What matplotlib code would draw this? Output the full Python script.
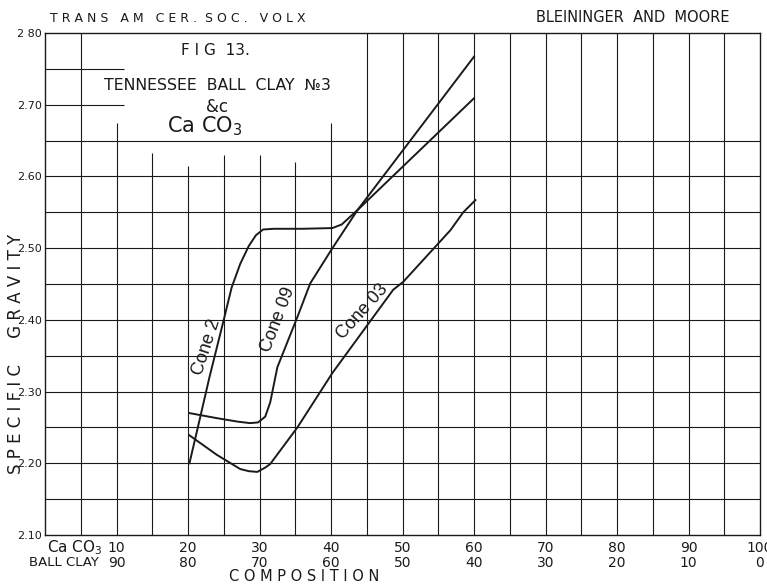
import numpy as np
import matplotlib
matplotlib.use('Agg')
import matplotlib.pyplot as plt

# composition axis (percent CaCO3) and matching ball clay percent
caco3_ticks = [10, 20, 30, 40, 50, 60, 70, 80, 90, 100]
ball_clay_ticks = [90, 80, 70, 60, 50, 40, 30, 20, 10, 0]
sg_ticks = [2.10, 2.20, 2.30, 2.40, 2.50, 2.60, 2.70, 2.80]
sg_labels = ['2.10', '2.20', '2.30', '2.40', '2.50', '2.60', '2.70', '2 80']

# curves: (CaCO3 %, specific gravity)
cone2_x = [20.2, 21.0, 21.7, 23.0, 25.0, 26.1, 27.3, 28.5, 29.5, 30.5, 32.0, 36.0, 40.2, 41.5, 42.7, 43.7, 60.0]
cone2_y = [2.200, 2.234, 2.264, 2.320, 2.400, 2.445, 2.478, 2.503, 2.518, 2.526, 2.527, 2.527, 2.528, 2.533, 2.544, 2.553, 2.709]

cone09_x = [20.2, 24.0, 27.0, 28.7, 29.8, 30.8, 31.5, 32.5, 35.3, 37.1, 40.2, 43.7, 60.0]
cone09_y = [2.270, 2.263, 2.258, 2.256, 2.257, 2.265, 2.285, 2.334, 2.404, 2.451, 2.500, 2.553, 2.767]

cone03_x = [20.2, 24.0, 27.3, 28.5, 29.7, 30.8, 31.5, 35.3, 40.2, 48.7, 50.1, 56.7, 58.5, 60.2]
cone03_y = [2.239, 2.212, 2.192, 2.189, 2.188, 2.194, 2.199, 2.250, 2.326, 2.442, 2.453, 2.525, 2.550, 2.567]

# grid lines: vertical tops are cut short under the title block
vgrid_x = [5, 10, 15, 20, 25, 30, 35, 40, 45, 50, 55, 60, 65, 70, 75, 80, 85, 90, 95]
vgrid_top = [2.80, 2.675, 2.633, 2.615, 2.630, 2.630, 2.620, 2.675, 2.80, 2.80,
             2.80, 2.80, 2.80, 2.80, 2.80, 2.80, 2.80, 2.80, 2.80]
hgrid_y = [2.15, 2.20, 2.25, 2.30, 2.35, 2.40, 2.45, 2.50, 2.55, 2.60, 2.65]
hgrid_short_y = [2.70, 2.75]

ink = '#1a1a1a'

fig = plt.figure(figsize=(7.67, 5.84), dpi=100)
ax = fig.add_axes([45 / 767, 1 - 535 / 584, 715 / 767, 502 / 584])
ax.set_xlim(0, 100)
ax.set_ylim(2.10, 2.80)

ax.vlines(vgrid_x, 2.10, vgrid_top, color=ink, lw=0.8)
ax.hlines(hgrid_y, 0, 100, color=ink, lw=0.8)
ax.hlines(hgrid_short_y, 0, 11, color=ink, lw=0.8)
for sp in ax.spines.values():
    sp.set_color(ink)
    sp.set_linewidth(1.0)

for xs, ys in [(cone2_x, cone2_y), (cone09_x, cone09_y), (cone03_x, cone03_y)]:
    ax.plot(xs, ys, color=ink, lw=1.4, solid_joinstyle='round')

lab = dict(family='Liberation Sans', fontsize=13, color=ink, ha='center', va='center')
ax.text(22.6, 2.362, 'Cone 2', rotation=72, **lab)
ax.text(32.6, 2.400, 'Cone 09', rotation=69, **lab)
ax.text(44.4, 2.412, 'Cone 03', rotation=48, **lab)

ax.set_xticks(caco3_ticks)
ax.set_xticklabels([])
ax.set_yticks(sg_ticks)
ax.set_yticklabels(sg_labels, fontsize=8, color=ink)
ax.tick_params(axis='y', length=0, pad=2)
ax.tick_params(axis='x', length=0)

# two rows of composition labels under the axis
for c, b in zip(caco3_ticks, ball_clay_ticks):
    ax.text(c, 2.082, str(c), ha='center', va='center', fontsize=10, color=ink)
    ax.text(c, 2.061, str(b), ha='center', va='center', fontsize=10, color=ink)
ax.text(4.2, 2.082, 'Ca CO$_3$', ha='center', va='center', fontsize=11, color=ink)
ax.text(2.7, 2.061, 'BALL CLAY', ha='center', va='center', fontsize=9.5, color=ink)
ax.text(36.3, 2.042, 'C O M P O S I T I O N', ha='center', va='center', fontsize=10.5, color=ink)

ax.text(-4.1, 2.352, 'S P E C I F I C     G R A V I T Y', rotation=90,
        ha='center', va='center', fontsize=12, color=ink)

# header and title block
fig.text(50 / 767, 1 - 18 / 584, 'T R A N S   A M   C E R .  S O C .   V O L X',
         ha='left', va='center', fontsize=9, color=ink)
fig.text(730 / 767, 1 - 18 / 584, 'BLEININGER  AND  MOORE',
         ha='right', va='center', fontsize=10.5, color=ink)
ax.text(23.8, 2.775, 'F I G  13.', ha='center', va='center', fontsize=11, color=ink)
ax.text(24.1, 2.727, 'TENNESSEE  BALL  CLAY  №3', ha='center', va='center', fontsize=11.3, color=ink)
ax.text(24.0, 2.697, '&c', ha='center', va='center', fontsize=12, color=ink)
ax.text(22.3, 2.670, 'Ca CO$_3$', ha='center', va='center', fontsize=15, color=ink)

fig.savefig('out.png', dpi=100, facecolor='white')
